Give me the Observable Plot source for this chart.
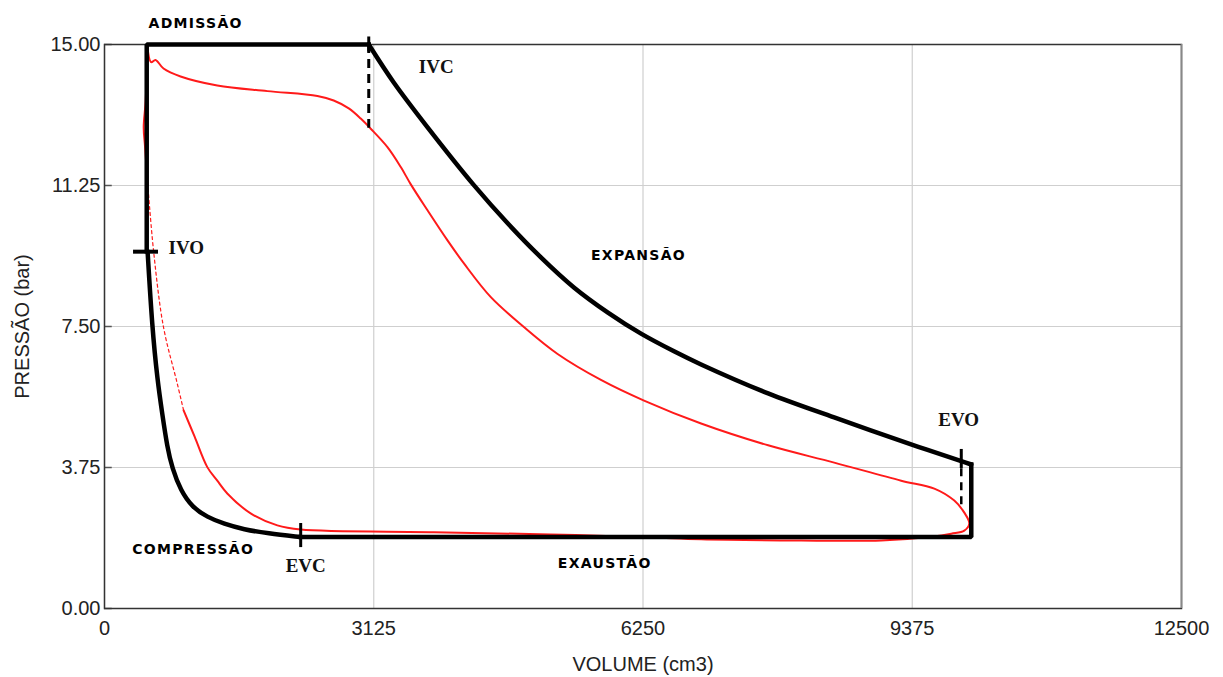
<!DOCTYPE html>
<html><head><meta charset="utf-8">
<script src="https://cdn.jsdelivr.net/npm/d3@7"></script>
<script src="https://cdn.jsdelivr.net/npm/@observablehq/plot@0.6"></script>
<style>body{margin:0;background:#fff}</style>
</head><body><div id="chart"></div>
<script>
const xTicks = [0, 3125, 6250, 9375, 12500];
const yTicks = [0, 3.75, 7.5, 11.25, 15];

// Ideal cycle (black) — straight parts
const idealTopV = [490, 490, 3067];
const idealTopP = [9.5, 15, 15];
const idealBottomV = [10060, 10060, 2277];
const idealBottomP = [3.83, 1.9, 1.9];
// Ideal expansion curve
const expV = [3067, 3357, 3752, 4287, 4682, 5065, 5448, 5843, 6227, 6610, 6924, 7702, 8469, 9445, 9979, 10060];
const expP = [15, 13.99, 12.79, 11.26, 10.24, 9.34, 8.54, 7.87, 7.31, 6.84, 6.49, 5.72, 5.08, 4.30, 3.89, 3.83];
// Ideal compression curve
const compV = [500, 553, 615, 670, 728, 786, 883, 1019, 1193, 1386, 1618, 1890, 2277];
const compP = [9.5, 7.48, 6.06, 5.18, 4.29, 3.73, 3.14, 2.69, 2.43, 2.25, 2.10, 2.00, 1.9];

// Real cycle (red) — solid part
const realV = [496, 541, 592, 685, 883, 1309, 1890, 2471, 2660, 2835, 2974, 3090, 3284, 3439, 3555, 3749, 3981, 4174, 4484, 4871, 5259, 5762, 6262, 6924, 7702, 8469, 9247, 9631, 9863, 9979, 10037, 9979, 9828, 9596, 9015, 8085, 6924, 6343, 5181, 3822, 2277, 2006, 1696, 1425, 1309, 1193, 1046, 918];
const realP = [15.0, 14.53, 14.59, 14.36, 14.15, 13.91, 13.76, 13.63, 13.51, 13.30, 13.03, 12.76, 12.27, 11.74, 11.28, 10.59, 9.79, 9.17, 8.28, 7.48, 6.77, 6.08, 5.53, 4.92, 4.34, 3.88, 3.40, 3.19, 2.87, 2.55, 2.26, 2.07, 1.99, 1.91, 1.81, 1.81, 1.84, 1.89, 1.97, 2.03, 2.10, 2.21, 2.53, 3.06, 3.40, 3.76, 4.57, 5.27];
// Real cycle — dotted part
const dotV = [918, 845, 685, 569, 496];
const dotP = [5.27, 5.98, 7.48, 9.52, 11.47];
// Real cycle — part behind the black vertical
const hiddenV = [496, 470, 455, 478, 492, 496];
const hiddenP = [11.47, 12.3, 12.8, 13.5, 14.6, 15.0];

// Valve markers
const ivcV = 3067, ivcTickP = [15.2, 14.8], ivcDashP = [15, 12.77];
const evoV = 9944, evoTickP = [4.23, 3.72], evoDashP = [3.72, 2.71];
const evcV = 2277, evcTickP = [2.26, 1.62];
const ivoP = 9.49, ivoTickV = [337, 627];

// Labels
const phaseText = ["ADMISSÃO", "EXPANSÃO", "COMPRESSÃO", "EXAUSTÃO"];
const phaseV = [511, 5646, 321, 5262];
const phaseP = [15.55, 9.40, 1.57, 1.20];
const valveText = ["IVC", "IVO", "EVO", "EVC"];
const valveV = [3648, 743, 9677, 2103];
const valveP = [14.40, 9.60, 5.02, 1.12];

const seg = (V, P) => V.map((v, i) => ({v, p: P[i]}));

const plot = Plot.plot({
  width: 1223, height: 677,
  marginLeft: 104, marginRight: 42, marginTop: 44, marginBottom: 69,
  style: {fontFamily: "'Liberation Sans', Arial, sans-serif", fontSize: "20px", color: "#222", background: "#fff", overflow: "visible"},
  x: {domain: [0, 12500]},
  y: {domain: [0, 15]},
  marks: [
    Plot.gridX(xTicks, {stroke: "#cfcfcf", strokeOpacity: 1, strokeWidth: 1.2}),
    Plot.gridY(yTicks, {stroke: "#cfcfcf", strokeOpacity: 1, strokeWidth: 1.2}),
    Plot.ruleY(yTicks, {x1: 0, x2: 90, stroke: "#555", strokeWidth: 1.5}),
    Plot.axisX({ticks: xTicks, tickSize: 0, tickPadding: 12, fontSize: 20, tickFormat: d => String(d),
      label: "VOLUME (cm3)", labelAnchor: "center", labelArrow: "none", labelOffset: 62}),
    Plot.axisY({ticks: yTicks, tickSize: 0, tickPadding: 4, fontSize: 20, tickFormat: d => d.toFixed(2),
      label: "PRESSÃO (bar)", labelAnchor: "center", labelArrow: "none", labelOffset: 90}),
    Plot.frame({stroke: "#333", strokeWidth: 1.5}),
    Plot.ruleX([12500], {stroke: "#888", strokeWidth: 1.5}),
    // real cycle
    Plot.line(seg(hiddenV, hiddenP), {x: "v", y: "p", stroke: "#ff1a1a", strokeWidth: 2, curve: "catmull-rom"}),
    Plot.line(seg(dotV, dotP), {x: "v", y: "p", stroke: "#ff1a1a", strokeWidth: 1.2, strokeDasharray: "3,3", curve: "catmull-rom"}),
    Plot.line(seg(realV, realP), {x: "v", y: "p", stroke: "#ff1a1a", strokeWidth: 2, curve: "catmull-rom"}),
    // ideal cycle
    Plot.line(seg(idealTopV, idealTopP), {x: "v", y: "p", stroke: "#000", strokeWidth: 4.5, strokeLinejoin: "miter", strokeLinecap: "square"}),
    Plot.line(seg(idealBottomV, idealBottomP), {x: "v", y: "p", stroke: "#000", strokeWidth: 4.5, strokeLinejoin: "miter", strokeLinecap: "square"}),
    Plot.line(seg(expV, expP), {x: "v", y: "p", stroke: "#000", strokeWidth: 4.5, curve: "catmull-rom"}),
    Plot.line(seg(compV, compP), {x: "v", y: "p", stroke: "#000", strokeWidth: 4.5, curve: "basis"}),
    // markers
    Plot.ruleX([ivcV], {y1: ivcTickP[0], y2: ivcTickP[1], stroke: "#000", strokeWidth: 3}),
    Plot.ruleX([ivcV], {y1: ivcDashP[0], y2: ivcDashP[1], stroke: "#000", strokeWidth: 3, strokeDasharray: "9,6"}),
    Plot.ruleX([evoV], {y1: evoTickP[0], y2: evoTickP[1], stroke: "#000", strokeWidth: 3}),
    Plot.ruleX([evoV], {y1: evoDashP[0], y2: evoDashP[1], stroke: "#000", strokeWidth: 2.5, strokeDasharray: "8,6"}),
    Plot.ruleX([evcV], {y1: evcTickP[0], y2: evcTickP[1], stroke: "#000", strokeWidth: 3}),
    Plot.ruleY([ivoP], {x1: ivoTickV[0], x2: ivoTickV[1], stroke: "#000", strokeWidth: 4}),
    // labels
    Plot.text(phaseText, {x: (d, i) => phaseV[i], y: (d, i) => phaseP[i], text: d => d, textAnchor: "start",
      fontFamily: "'DejaVu Sans', sans-serif", fontWeight: "bold", fontSize: 14, fill: "#000"}),
    Plot.text(valveText, {x: (d, i) => valveV[i], y: (d, i) => valveP[i], text: d => d, textAnchor: "start",
      fontFamily: "'Liberation Serif', 'Times New Roman', serif", fontWeight: "bold", fontSize: 19, fill: "#111"})
  ]
});
d3.select(plot).selectAll("text")
  .filter(function() { return phaseText.includes(this.textContent); })
  .attr("letter-spacing", "1.3");
document.getElementById("chart").appendChild(plot);
</script>
</body></html>
